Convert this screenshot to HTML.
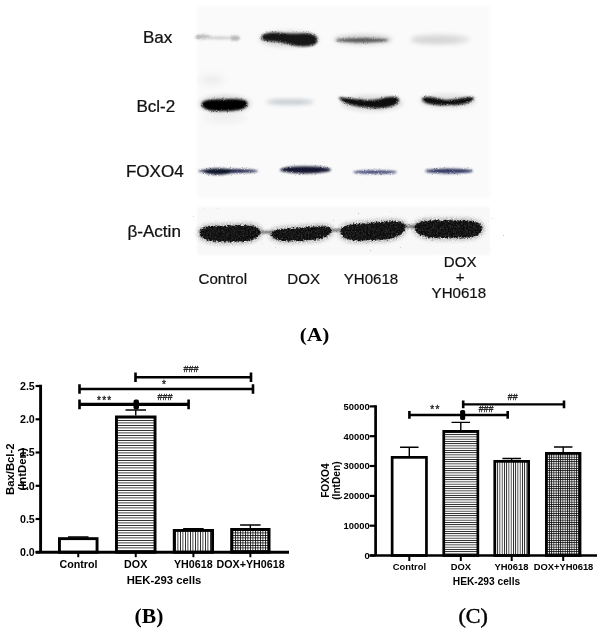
<!DOCTYPE html>
<html><head><meta charset="utf-8"><title>Figure</title>
<style>
html,body{margin:0;padding:0;background:#fff;}
body{width:602px;height:632px;overflow:hidden;}
svg{display:block;}
text{font-family:"Liberation Sans",Arial,sans-serif;fill:#111;}
.ser{font-family:"Liberation Serif","Times New Roman",serif;fill:#000;}
.b{font-weight:bold;fill:#000;}
</style></head><body>
<svg width="602" height="632" viewBox="0 0 602 632">
<defs>
<filter id="bl1" x="-20%" y="-100%" width="140%" height="300%"><feGaussianBlur stdDeviation="1.2"/></filter>
<filter id="bl2" x="-20%" y="-100%" width="140%" height="300%"><feGaussianBlur stdDeviation="2"/></filter>
<filter id="bl3" x="-20%" y="-100%" width="140%" height="300%"><feGaussianBlur stdDeviation="3.5"/></filter>
<filter id="band" x="-10%" y="-60%" width="120%" height="220%">
<feGaussianBlur in="SourceGraphic" stdDeviation="0.9" result="b"/>
<feTurbulence type="fractalNoise" baseFrequency="0.7" numOctaves="2" seed="7" result="n"/>
<feDisplacementMap in="b" in2="n" scale="2.5" xChannelSelector="R" yChannelSelector="G" result="d"/>
<feGaussianBlur in="d" stdDeviation="0.7"/>
</filter>
<filter id="grain" x="-10%" y="-60%" width="120%" height="220%" color-interpolation-filters="sRGB">
<feGaussianBlur in="SourceAlpha" stdDeviation="1.8" result="b"/>
<feTurbulence type="fractalNoise" baseFrequency="0.6" numOctaves="3" seed="5" result="t"/>
<feColorMatrix in="t" type="matrix" values="0 0 0 0 0  0 0 0 0 0  0 0 0 0 0  1 0 0 0 0" result="n"/>
<feColorMatrix in="t" type="matrix" values="0 0 0 0 0  0 0 0 0 0  0 0 0 0 0  0 1 0 0 0" result="n2"/>
<feComposite in="b" in2="n" operator="arithmetic" k1="0" k2="1" k3="1.0" k4="-0.5" result="c"/>
<feComponentTransfer in="c" result="th"><feFuncA type="linear" slope="3" intercept="-0.95"/></feComponentTransfer>
<feComposite in="th" in2="n2" operator="arithmetic" k1="-0.5" k2="1.18" k3="0" k4="0" result="tx"/>
<feFlood flood-color="#0a0a0a"/><feComposite in2="tx" operator="in"/>
<feGaussianBlur stdDeviation="0.5"/>
</filter>
<filter id="halo" x="-10%" y="-60%" width="120%" height="220%" color-interpolation-filters="sRGB">
<feGaussianBlur in="SourceGraphic" stdDeviation="2.2" result="b"/>
<feTurbulence type="fractalNoise" baseFrequency="0.8" numOctaves="2" seed="11" result="t"/>
<feColorMatrix in="t" type="matrix" values="0 0 0 0 0  0 0 0 0 0  0 0 0 0 0  1.8 0 0 0 -0.3" result="n"/>
<feComposite in="b" in2="n" operator="in"/>
</filter>
<pattern id="hh" width="4" height="2.5" patternUnits="userSpaceOnUse"><rect width="4" height="2.5" fill="#fff"/><rect y="0" width="4" height="0.8" fill="#111"/></pattern>
<pattern id="vv" width="2.5" height="4" patternUnits="userSpaceOnUse"><rect width="2.5" height="4" fill="#fff"/><rect x="0" width="0.8" height="4" fill="#111"/></pattern>
<pattern id="gg" width="2.5" height="2.5" patternUnits="userSpaceOnUse"><rect width="2.5" height="2.5" fill="#fff"/><rect x="0" width="0.8" height="2.5" fill="#111"/><rect y="0" width="2.5" height="0.8" fill="#111"/></pattern>
<pattern id="hh2" width="4" height="2.25" patternUnits="userSpaceOnUse"><rect width="4" height="2.25" fill="#fff"/><rect y="0" width="4" height="0.8" fill="#111"/></pattern>
<pattern id="vv2" width="2.25" height="4" patternUnits="userSpaceOnUse"><rect width="2.25" height="4" fill="#fff"/><rect x="0" width="0.8" height="4" fill="#111"/></pattern>
<pattern id="gg2" width="2.25" height="2.25" patternUnits="userSpaceOnUse"><rect width="2.25" height="2.25" fill="#fff"/><rect x="0" width="0.8" height="2.25" fill="#111"/><rect y="0" width="2.25" height="0.8" fill="#111"/></pattern>
</defs>
<rect width="602" height="632" fill="#fff"/>

<g id="blot">
<rect x="197" y="6" width="293" height="192" fill="#fafafa" filter="url(#bl1)"/>
<rect x="197" y="207" width="293" height="48" fill="#f8f8f8" filter="url(#bl1)"/>
<ellipse cx="212" cy="80" rx="12" ry="5" fill="#ececec" filter="url(#bl3)"/>
<ellipse cx="225" cy="118" rx="22" ry="3" fill="#e9e9e9" filter="url(#bl3)"/>
<g filter="url(#band)">
<ellipse cx="203" cy="37" rx="8" ry="2.6" fill="#b4b4b4"/>
<ellipse cx="219" cy="37.8" rx="20" ry="1.6" fill="#d0d0d0"/>
<ellipse cx="235" cy="38.2" rx="5" ry="2.6" fill="#b8b8b8"/>
</g>
<ellipse cx="289" cy="39" rx="30" ry="8" fill="#d8d8d8" filter="url(#bl2)"/>
<path d="M261.5 36.5 C264 31.5,276 32,286 33.2 C294 34,300 33,306 33.2 C314 33.5,318.5 36.5,317.5 41 C316.5 46.5,304 47.5,294 45.5 C286 43.5,280 42,274 41.5 C267 41.5,260.5 40.5,261.5 36.5Z" fill="#181818" filter="url(#band)"/>
<ellipse cx="363" cy="39.5" rx="29" ry="5" fill="#cdcdcd" filter="url(#bl2)"/>
<ellipse cx="362" cy="40.2" rx="26" ry="2.2" fill="#5c5c5c" filter="url(#band)"/>
<ellipse cx="440" cy="39.5" rx="30" ry="5.5" fill="#e2e2e2" filter="url(#bl2)"/>
<ellipse cx="436" cy="40" rx="23" ry="2.2" fill="#d2d2d2" filter="url(#bl2)"/>
<ellipse cx="225" cy="104" rx="26" ry="9" fill="#d6d6d6" filter="url(#bl2)"/>
<path d="M201.5 104 C202.5 99,215 99,225 99.2 C238 98.8,248 99,247.5 104 C247 110,236 111,225 111 C214 111.5,202.5 111,201.5 104Z" fill="#050505" filter="url(#band)"/>
<ellipse cx="290" cy="102" rx="24" ry="2.6" fill="#bfc7cc" filter="url(#bl2)"/>
<ellipse cx="372" cy="103" rx="31" ry="8" fill="#dcdcdc" filter="url(#bl2)"/>
<path d="M338.5 97.5 C348 97,365 102,380 99 C390 96,399 96,399 100 C399 106,385 109,372 108 C360 107,343 105,338.5 97.5Z" fill="#0a0a0a" filter="url(#band)"/>
<ellipse cx="448" cy="101" rx="28" ry="7" fill="#e0e0e0" filter="url(#bl2)"/>
<path d="M422 99 C424 95,436 98,446 100 C456 100,470 95,474 98 C474 102,462 106,448 105 C436 106,422 104,422 99Z" fill="#101010" filter="url(#band)"/>
<g filter="url(#band)">
<ellipse cx="228" cy="171" rx="30" ry="2.2" fill="#2a2f52"/>
<ellipse cx="218" cy="171.5" rx="14" ry="3.2" fill="#10132c"/>
<ellipse cx="305.5" cy="169.8" rx="25.5" ry="3.6" fill="#141833"/>
<ellipse cx="375" cy="172" rx="22" ry="1.8" fill="#3a416e"/>
<ellipse cx="449" cy="171" rx="24" ry="2.5" fill="#353b63"/>
</g>
<g filter="url(#halo)" opacity="0.6">
<path d="M199.5 232.5 C199.5 228.5,204 226.8,214 226.3 L244 225.3 C254 225.3,260 227.5,260.5 231.5 C261 236.5,254 241,241 241.6 L222 241.8 C208 241.6,199.5 238.5,199.5 232.5Z" fill="#333" stroke="#333" stroke-width="4"/>
<path d="M271 234 C271 230.5,277 229.3,286 228.8 L314 226.8 C324 225.6,331 226.3,331.5 230 C332 235,324 239,312 240 L290 241 C279 241,271 239,271 234Z" fill="#333" stroke="#333" stroke-width="4"/>
<path d="M340.5 231.5 C340.5 226.5,347 224.8,357 224 L388 221.4 C398 220.8,405 222.2,405.5 226.5 C406 233,397 238.3,384 239.5 L360 240.6 C349 240.6,340.5 238,340.5 231.5Z" fill="#333" stroke="#333" stroke-width="4"/>
<path d="M414.5 227.5 C414.5 223,421 221,431 220.6 L464 220.6 C475 221,482 223.3,482.2 228.3 C482.5 234.5,474 237.5,462 237.8 L436 237.8 C424 237.4,414.5 234,414.5 227.5Z" fill="#333" stroke="#333" stroke-width="4"/>
</g>
<g filter="url(#band)">
<path d="M259 230.8h15v2.6h-15z" fill="#666"/>
<path d="M402 225.2h15v2.8h-15z" fill="#666"/>
<path d="M331 229h12v2.4h-12z" fill="#666"/>
</g>
<g filter="url(#grain)">
<path d="M199.5 232.5 C199.5 228.5,204 226.8,214 226.3 L244 225.3 C254 225.3,260 227.5,260.5 231.5 C261 236.5,254 241,241 241.6 L222 241.8 C208 241.6,199.5 238.5,199.5 232.5Z" fill="#0c0c0c"/>
<path d="M271 234 C271 230.5,277 229.3,286 228.8 L314 226.8 C324 225.6,331 226.3,331.5 230 C332 235,324 239,312 240 L290 241 C279 241,271 239,271 234Z" fill="#0c0c0c"/>
<path d="M340.5 231.5 C340.5 226.5,347 224.8,357 224 L388 221.4 C398 220.8,405 222.2,405.5 226.5 C406 233,397 238.3,384 239.5 L360 240.6 C349 240.6,340.5 238,340.5 231.5Z" fill="#0c0c0c"/>
<path d="M414.5 227.5 C414.5 223,421 221,431 220.6 L464 220.6 C475 221,482 223.3,482.2 228.3 C482.5 234.5,474 237.5,462 237.8 L436 237.8 C424 237.4,414.5 234,414.5 227.5Z" fill="#0c0c0c"/>
</g>
</g>
<text transform="translate(157.6 43.4) scale(1.065 1)" font-size="16" text-anchor="middle" stroke="#111" stroke-width="0.25">Bax</text>
<text transform="translate(155.8 112) scale(1.065 1)" font-size="16" text-anchor="middle" stroke="#111" stroke-width="0.25">Bcl-2</text>
<text transform="translate(154.8 177.2) scale(1.065 1)" font-size="16" text-anchor="middle" stroke="#111" stroke-width="0.25">FOXO4</text>
<text transform="translate(154.2 236.7) scale(1.065 1)" font-size="16" text-anchor="middle" stroke="#111" stroke-width="0.25">β-Actin</text>
<text transform="translate(222.8 283.6) scale(1.04 1)" font-size="14.5" text-anchor="middle" stroke="#111" stroke-width="0.2">Control</text>
<text transform="translate(303.6 283.6) scale(1.04 1)" font-size="14.5" text-anchor="middle" stroke="#111" stroke-width="0.2">DOX</text>
<text transform="translate(371 283.8) scale(1.04 1)" font-size="14.5" text-anchor="middle" stroke="#111" stroke-width="0.2">YH0618</text>
<text transform="translate(460.2 266.6) scale(1.04 1)" font-size="14.5" text-anchor="middle" stroke="#111" stroke-width="0.2">DOX</text>
<text transform="translate(460.2 281.6) scale(1.04 1)" font-size="14.5" text-anchor="middle" stroke="#111" stroke-width="0.2">+</text>
<text transform="translate(458.8 298) scale(1.04 1)" font-size="14.5" text-anchor="middle" stroke="#111" stroke-width="0.2">YH0618</text>
<text class="ser b" transform="translate(314.6 341.3) scale(1.09 1)" font-size="19.5" text-anchor="middle">(A)</text>
<text class="ser b" transform="translate(149 623) scale(1.08 1)" font-size="20" text-anchor="middle">(B)</text>
<text class="ser" transform="translate(473.2 622.8) scale(1.1 1)" font-size="20" text-anchor="middle" stroke="#000" stroke-width="0.45">(C)</text>
<g id="chartB">
<rect x="59.45" y="538.65" width="37.6" height="13.55" fill="#fff" stroke="#000" stroke-width="2.9"/>
<rect x="116.45" y="416.95" width="38.6" height="135.25" fill="url(#hh)" stroke="#000" stroke-width="2.9"/>
<rect x="174.25" y="530.45" width="38.3" height="21.75" fill="url(#vv)" stroke="#000" stroke-width="2.9"/>
<rect x="231.65" y="529.45" width="37.4" height="22.75" fill="url(#gg)" stroke="#000" stroke-width="2.9"/>
<path d="M78.25 537.2V537M68 537H88.5" stroke="#000" stroke-width="1.4" fill="none"/>
<path d="M78.25 552.2v5" stroke="#000" stroke-width="2"/>
<path d="M135.75 415.5V410M125.5 410H146" stroke="#000" stroke-width="1.4" fill="none"/>
<path d="M135.75 552.2v5" stroke="#000" stroke-width="2"/>
<path d="M193.4 529V528.6M183.15 528.6H203.65" stroke="#000" stroke-width="1.4" fill="none"/>
<path d="M193.4 552.2v5" stroke="#000" stroke-width="2"/>
<path d="M250.35 528V525M240.1 525H260.6" stroke="#000" stroke-width="1.4" fill="none"/>
<path d="M250.35 552.2v5" stroke="#000" stroke-width="2"/>
<path d="M40.6 384.8V553.65M35.6 552.2H289" stroke="#000" stroke-width="2.9" fill="none"/>
<path d="M35.6 386H40.6" stroke="#000" stroke-width="2.2"/>
<text class="b" x="34.8" y="389.85" font-size="10.7" text-anchor="end" fill="#000">2.5</text>
<path d="M35.6 419.3H40.6" stroke="#000" stroke-width="2.2"/>
<text class="b" x="34.8" y="423.15" font-size="10.7" text-anchor="end" fill="#000">2.0</text>
<path d="M35.6 452.5H40.6" stroke="#000" stroke-width="2.2"/>
<text class="b" x="34.8" y="456.35" font-size="10.7" text-anchor="end" fill="#000">1.5</text>
<path d="M35.6 485.8H40.6" stroke="#000" stroke-width="2.2"/>
<text class="b" x="34.8" y="489.65" font-size="10.7" text-anchor="end" fill="#000">1.0</text>
<path d="M35.6 519H40.6" stroke="#000" stroke-width="2.2"/>
<text class="b" x="34.8" y="522.85" font-size="10.7" text-anchor="end" fill="#000">0.5</text>
<path d="M35.6 552.2H40.6" stroke="#000" stroke-width="2.2"/>
<text class="b" x="34.8" y="556.05" font-size="10.7" text-anchor="end" fill="#000">0.0</text>
<path d="M135.5 377.2H251" stroke="#000" stroke-width="2.5" fill="none"/>
<path d="M135.5 372.4v9.6M251 372.4v9.6" stroke="#000" stroke-width="2.6" fill="none"/>
<path d="M79.5 389H253" stroke="#000" stroke-width="2.3" fill="none"/>
<path d="M79.5 384.2v9.6M253 384.2v9.6" stroke="#000" stroke-width="2.6" fill="none"/>
<path d="M79.5 404.4H188.6" stroke="#000" stroke-width="3.1" fill="none"/>
<path d="M79.5 399.6v9.6M188.6 399.6v9.6" stroke="#000" stroke-width="2.6" fill="none"/>
<text x="191" y="371.5" font-size="9" text-anchor="middle" fill="#222" stroke="#222" stroke-width="0.3">###</text>
<text x="164" y="388" font-size="10" text-anchor="middle" fill="#222" stroke="#222" stroke-width="0.3">*</text>
<text x="104.7" y="403.5" font-size="10" text-anchor="middle" fill="#222" stroke="#222" stroke-width="0.3" letter-spacing="1.2">***</text>
<text x="165" y="400" font-size="9" text-anchor="middle" fill="#222" stroke="#222" stroke-width="0.3">###</text>
<text class="b" x="78.5" y="567.6" font-size="10.7" text-anchor="middle" fill="#000">Control</text>
<text class="b" x="135.7" y="567.6" font-size="10.7" text-anchor="middle" fill="#000">DOX</text>
<text class="b" x="193.3" y="567.6" font-size="10.7" text-anchor="middle" fill="#000">YH0618</text>
<text class="b" x="250.6" y="567.6" font-size="10.7" text-anchor="middle" fill="#000">DOX+YH0618</text>
<text class="b" x="164" y="583.7" font-size="11.3" text-anchor="middle" fill="#000">HEK-293 cells</text>
<text class="b" transform="translate(14.2 469.2) rotate(-90)" font-size="11.3" text-anchor="middle" fill="#000">Bax/Bcl-2</text>
<text class="b" transform="translate(26.2 469.2) rotate(-90)" font-size="11.3" text-anchor="middle" fill="#000">(IntDen)</text>
<rect x="133.5" y="399.5" width="5.5" height="10" rx="2" fill="#000"/>
</g>
<g id="chartC">
<rect x="392.15" y="457.35" width="34.3" height="98.15" fill="#fff" stroke="#000" stroke-width="2.7"/>
<rect x="443.75" y="431.35" width="34.1" height="124.15" fill="url(#hh2)" stroke="#000" stroke-width="2.7"/>
<rect x="494.75" y="461.35" width="33.9" height="94.15" fill="url(#vv2)" stroke="#000" stroke-width="2.7"/>
<rect x="546.35" y="453.35" width="33.7" height="102.15" fill="url(#gg2)" stroke="#000" stroke-width="2.7"/>
<path d="M409.3 456V447.3M400.05 447.3H418.55" stroke="#000" stroke-width="1.4" fill="none"/>
<path d="M409.3 555.5v5.5" stroke="#000" stroke-width="2"/>
<path d="M460.8 430V422.4M451.55 422.4H470.05" stroke="#000" stroke-width="1.4" fill="none"/>
<path d="M460.8 555.5v5.5" stroke="#000" stroke-width="2"/>
<path d="M511.7 460V458.5M502.45 458.5H520.95" stroke="#000" stroke-width="1.4" fill="none"/>
<path d="M511.7 555.5v5.5" stroke="#000" stroke-width="2"/>
<path d="M563.2 452V447M553.95 447H572.45" stroke="#000" stroke-width="1.4" fill="none"/>
<path d="M563.2 555.5v5.5" stroke="#000" stroke-width="2"/>
<path d="M375.6 405.2V556.85M369.6 555.5H597" stroke="#000" stroke-width="2.7" fill="none"/>
<path d="M369.6 406.4H375.6" stroke="#000" stroke-width="2.2"/>
<text class="b" x="369.7" y="409.78" font-size="9.4" text-anchor="end" fill="#1a1a1a">50000</text>
<path d="M369.6 436.2H375.6" stroke="#000" stroke-width="2.2"/>
<text class="b" x="369.7" y="439.58" font-size="9.4" text-anchor="end" fill="#1a1a1a">40000</text>
<path d="M369.6 466H375.6" stroke="#000" stroke-width="2.2"/>
<text class="b" x="369.7" y="469.38" font-size="9.4" text-anchor="end" fill="#1a1a1a">30000</text>
<path d="M369.6 495.9H375.6" stroke="#000" stroke-width="2.2"/>
<text class="b" x="369.7" y="499.28" font-size="9.4" text-anchor="end" fill="#1a1a1a">20000</text>
<path d="M369.6 525.7H375.6" stroke="#000" stroke-width="2.2"/>
<text class="b" x="369.7" y="529.08" font-size="9.4" text-anchor="end" fill="#1a1a1a">10000</text>
<path d="M369.6 555.5H375.6" stroke="#000" stroke-width="2.2"/>
<text class="b" x="369.7" y="558.88" font-size="9.4" text-anchor="end" fill="#1a1a1a">0</text>
<path d="M409.4 414.9H462" stroke="#000" stroke-width="2.5" fill="none"/>
<path d="M409.4 411v7.8M462 411v7.8" stroke="#000" stroke-width="2.6" fill="none"/>
<path d="M462 414.9H507.7" stroke="#000" stroke-width="2.5" fill="none"/>
<path d="M462 411v7.8M507.7 411v7.8" stroke="#000" stroke-width="2.6" fill="none"/>
<path d="M463.2 404.4H564" stroke="#000" stroke-width="2.4" fill="none"/>
<path d="M463.2 400.5v7.8M564 400.5v7.8" stroke="#000" stroke-width="2.6" fill="none"/>
<text x="435.4" y="413.3" font-size="10" text-anchor="middle" fill="#222" stroke="#222" stroke-width="0.3" letter-spacing="1.2">**</text>
<text x="486" y="412" font-size="8.8" text-anchor="middle" fill="#222" stroke="#222" stroke-width="0.3">###</text>
<text x="512.7" y="400" font-size="8.8" text-anchor="middle" fill="#222" stroke="#222" stroke-width="0.3">##</text>
<text class="b" x="409.4" y="570" font-size="9.4" text-anchor="middle" fill="#1a1a1a">Control</text>
<text class="b" x="460.8" y="570" font-size="9.4" text-anchor="middle" fill="#1a1a1a">DOX</text>
<text class="b" x="511.5" y="570" font-size="9.4" text-anchor="middle" fill="#1a1a1a">YH0618</text>
<text class="b" x="563.5" y="570" font-size="9.4" text-anchor="middle" fill="#1a1a1a">DOX+YH0618</text>
<text class="b" x="486.5" y="584.8" font-size="10.2" text-anchor="middle" fill="#1a1a1a">HEK-293 cells</text>
<text class="b" transform="translate(329.2 480.6) rotate(-90)" font-size="10.2" text-anchor="middle" fill="#1a1a1a">FOXO4</text>
<text class="b" transform="translate(340 480.6) rotate(-90)" font-size="10.2" text-anchor="middle" fill="#1a1a1a">(IntDen)</text>
<rect x="460.2" y="410" width="5" height="10" rx="1.6" fill="#000"/>
</g>
</svg></body></html>
